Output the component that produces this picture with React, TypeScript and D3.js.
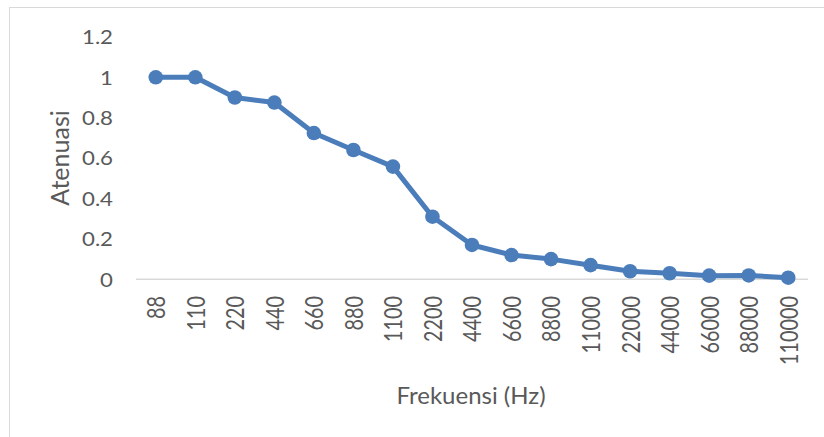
import React from "react";
import * as d3 from "d3";

const categories = ["88", "110", "220", "440", "660", "880", "1100", "2200", "4400", "6600", "8800", "11000", "22000", "44000", "66000", "88000", "110000"];
const attenuation = [1, 1, 0.9, 0.875, 0.724, 0.64, 0.558, 0.31, 0.17, 0.12, 0.1, 0.07, 0.04, 0.03, 0.018, 0.019, 0.008];
const yTicks = [0, 0.2, 0.4, 0.6, 0.8, 1, 1.2];

const W = 824;
const H = 437;
const lineColor = "#4a7dba";
const textColor = "#595959";
const font = "Lato, 'Open Sans', sans-serif";

export default function App() {
  const x = d3.scaleBand().domain(categories).range([136, 808]);
  const y = d3.scaleLinear().domain([0, 1.2]).range([279.3, 36.9]);
  const cx = (c: string) => (x(c) as number) + x.bandwidth() / 2;

  const line = d3
    .line<number>()
    .x((_, i) => cx(categories[i]))
    .y((d) => y(d));

  return (
    <div style={{ position: "absolute", left: 0, top: 0 }}>
      <svg width={W} height={H} style={{ display: "block", background: "#fff" }}>
        <rect x={9.5} y={7.5} width={900} height={500} fill="#fff" stroke="#d9d9d9" strokeWidth={1} />

        {/* y tick labels */}
        {yTicks.map((t) => (
          <text
            key={t}
            transform={`translate(113, ${y(t)}) scale(1.2, 1)`}
            textAnchor="end"
            dominantBaseline="central"
            fontFamily={font}
            fontSize={18.5}
            fill={textColor}
          >
            {d3.format("~g")(t)}
          </text>
        ))}

        {/* x axis line */}
        <line x1={136} x2={808} y1={y(0)} y2={y(0)} stroke="#d9d9d9" strokeWidth={1.5} />

        {/* x tick labels */}
        {categories.map((c) => (
          <text
            key={c}
            transform={`translate(${cx(c)}, 296) scale(1.26, 1) rotate(-90)`}
            textAnchor="end"
            dominantBaseline="central"
            fontFamily={font}
            fontSize={19.8}
            fill={textColor}
          >
            {c}
          </text>
        ))}

        {/* series */}
        <path d={line(attenuation) || ""} fill="none" stroke={lineColor} strokeWidth={5} strokeLinejoin="round" />
        {attenuation.map((v, i) => (
          <circle key={i} cx={cx(categories[i])} cy={y(v)} r={7.3} fill={lineColor} />
        ))}

        {/* axis titles */}
        <text
          transform="translate(59, 158) rotate(-90)"
          textAnchor="middle"
          dominantBaseline="central"
          fontFamily={font}
          fontSize={25}
          fill={textColor}
        >
          Atenuasi
        </text>
        <text
          x={471}
          y={404}
          textAnchor="middle"
          fontFamily={font}
          fontSize={24}
          fill={textColor}
        >
          Frekuensi (Hz)
        </text>
      </svg>
    </div>
  );
}
